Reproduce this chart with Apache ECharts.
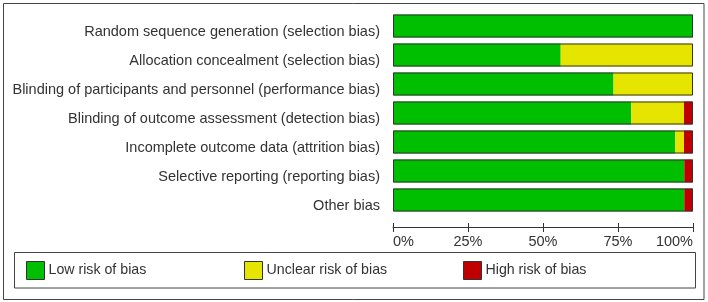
<!DOCTYPE html>
<html>
<head>
<meta charset="utf-8">
<script src="https://cdn.jsdelivr.net/npm/echarts@6/dist/echarts.min.js"></script>
<style>html,body{margin:0;padding:0;background:#fff}#c{width:708px;height:302px}</style>
</head>
<body>
<div id="c"></div>
<script>
var categories = [
  'Random sequence generation (selection bias)',
  'Allocation concealment (selection bias)',
  'Blinding of participants and personnel (performance bias)',
  'Blinding of outcome assessment (detection bias)',
  'Incomplete outcome data (attrition bias)',
  'Selective reporting (reporting bias)',
  'Other bias'
];
var lowRisk = [100, 55.9, 73.5, 79.4, 94.1, 97.1, 97.1];
var unclearRisk = [0, 44.1, 26.5, 17.6, 2.9, 0, 0];
var highRisk = [0, 0, 0, 2.9, 2.9, 2.9, 2.9];
var outline = [100, 100, 100, 100, 100, 100, 100];
var tickLabels = ['0%', '25%', '50%', '75%', '100%'];
var seriesNames = ['Low risk of bias', 'Unclear risk of bias', 'High risk of bias'];
var colors = ['#00bf00', '#e5e500', '#c00000'];

var FONT = 'Liberation Sans, Arial, sans-serif';
var TXT = '#333';
var chart = echarts.init(document.getElementById('c'), null, {renderer: 'canvas'});

function legendFor(i, left) {
  return {
    left: left, top: 261, padding: 0, itemWidth: 18, itemHeight: 18, itemGap: 5,
    icon: 'rect', selectedMode: false,
    data: [{name: seriesNames[i], itemStyle: {color: colors[i], borderColor: '#333', borderWidth: 1}}],
    textStyle: {fontFamily: FONT, fontSize: 14.2, color: TXT, padding: [0, 0, 0, -1]}
  };
}

function bar(i, data) {
  return {
    name: seriesNames[i], type: 'bar', stack: 'risk', data: data, barWidth: 23,
    itemStyle: {color: colors[i]}, silent: true
  };
}

chart.setOption({
  animation: false,
  grid: {left: 393, right: 15, top: 11.5, height: 203},
  graphic: [
    {type: 'rect', shape: {x: 3.5, y: 3.5, width: 700.5, height: 296}, style: {fill: 'none', stroke: '#444', lineWidth: 1}, silent: true},
    {type: 'rect', shape: {x: 14.5, y: 252.5, width: 681, height: 35.5}, style: {fill: 'none', stroke: '#444', lineWidth: 1}, silent: true}
  ],
  legend: [legendFor(0, 26), legendFor(1, 244), legendFor(2, 463)],
  xAxis: [
    {
      type: 'value', min: 0, max: 100, interval: 25, position: 'bottom', offset: 12.5,
      splitLine: {show: false},
      axisLine: {show: true, lineStyle: {color: '#333', width: 1}},
      axisTick: {show: true, inside: true, length: 4, lineStyle: {color: '#333'}},
      axisLabel: {
        color: TXT, fontFamily: FONT, fontSize: 14.5, margin: 7,
        alignMinLabel: 'left', alignMaxLabel: 'right',
        formatter: function (v) { return tickLabels[Math.round(v / 25)]; }
      }
    },
    {
      type: 'value', min: 0, max: 100, interval: 25, position: 'bottom', offset: 12.5,
      splitLine: {show: false},
      axisLine: {show: false},
      axisTick: {show: true, inside: false, length: 5, lineStyle: {color: '#333'}},
      axisLabel: {show: false}
    }
  ],
  yAxis: {
    type: 'category', data: categories, inverse: true,
    axisLine: {show: false}, axisTick: {show: false},
    axisLabel: {color: TXT, fontFamily: FONT, fontSize: 14.5, margin: 13, verticalAlign: 'top', lineHeight: 11}
  },
  series: [
    bar(0, lowRisk),
    bar(1, unclearRisk),
    bar(2, highRisk),
    {
      name: 'outline', type: 'bar', data: outline, barWidth: 23, barGap: '-100%', z: 5, silent: true,
      itemStyle: {color: 'rgba(0,0,0,0)', borderColor: '#333', borderWidth: 1}
    }
  ]
});
</script>
</body>
</html>
